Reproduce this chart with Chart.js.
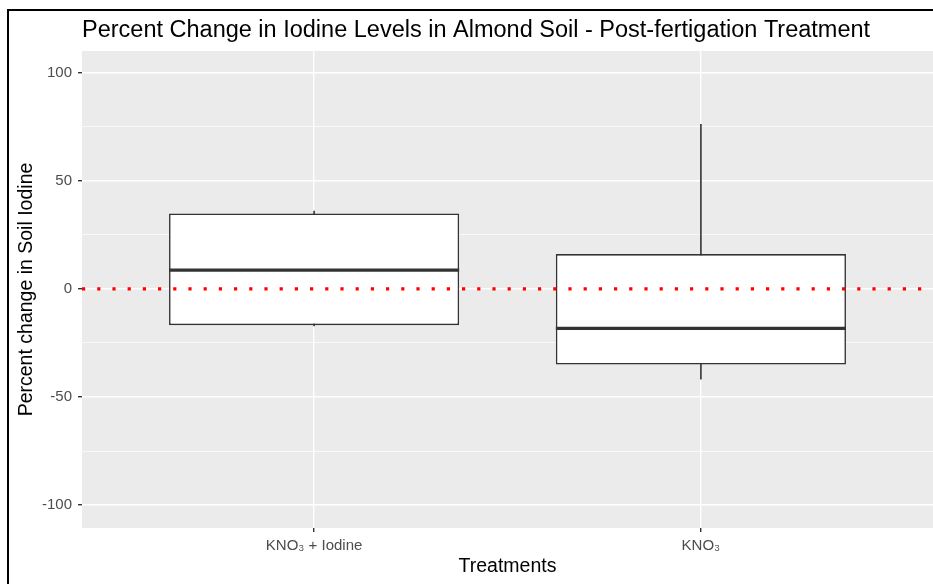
<!DOCTYPE html>
<html>
<head>
<meta charset="utf-8">
<script src="https://cdn.jsdelivr.net/npm/chart.js@4.4.1/dist/chart.umd.min.js"></script>
<style>
  html, body { margin: 0; padding: 0; background: #fff; overflow: hidden; }
  #wrap { position: relative; width: 933px; height: 584px; }
  #frame { position: absolute; left: 7px; top: 9px; width: 960px; height: 600px;
           border-top: 2px solid #000; border-left: 2px solid #000; pointer-events: none; }
</style>
</head>
<body>
<div id="wrap">
  <canvas id="boxChart" width="933" height="584"></canvas>
  <div id="frame"></div>
</div>
<script>
// Box plot values
const categories = ['KNO\u2083 + Iodine', 'KNO\u2083'];
const positions = [1, 2];
const whiskerLow = [-17.3, -41.9];
const q1 = [-16.8, -35.0];
const median = [8.7, -18.3];
const q3 = [34.9, 16.1];
const whiskerHigh = [36.1, 76.2];
const yTicks = [-100, -75, -50, -25, 0, 25, 50, 75, 100];
const refLine = 0;

const FONT = 'Liberation Sans, Arial, Helvetica, sans-serif';

// Box fill / whisker data built from the arrays above
const boxData = positions.map((p, i) => ({ x: p, y: [q1[i], q3[i]] }));
const whiskerData = [];
positions.forEach((p, i) => {
  if (i > 0) whiskerData.push({ x: p - 0.5, y: null });
  whiskerData.push({ x: p, y: whiskerLow[i] });
  whiskerData.push({ x: p, y: whiskerHigh[i] });
});

// Grey panel background
const panelBg = {
  id: 'panelBg',
  beforeDraw(chart) {
    const { ctx, chartArea: a } = chart;
    ctx.save();
    ctx.fillStyle = '#EBEBEB';
    ctx.fillRect(a.left, a.top, a.right - a.left, a.bottom - a.top);
    ctx.restore();
  }
};

// Median bars and the dotted zero reference line
const boxExtras = {
  id: 'boxExtras',
  afterDatasetsDraw(chart) {
    const { ctx, chartArea: a, scales } = chart;
    const meta = chart.getDatasetMeta(1);
    ctx.save();
    ctx.strokeStyle = '#333333';
    ctx.lineWidth = 3.2;
    meta.data.forEach((el, i) => {
      const y = scales.y.getPixelForValue(median[i]);
      ctx.beginPath();
      ctx.moveTo(el.x - el.width / 2, y);
      ctx.lineTo(el.x + el.width / 2, y);
      ctx.stroke();
    });
    const y0 = scales.y.getPixelForValue(refLine);
    ctx.strokeStyle = '#FF0000';
    ctx.lineWidth = 3.2;
    ctx.setLineDash([3.2, 12]);
    ctx.beginPath();
    ctx.moveTo(a.left, y0);
    ctx.lineTo(a.right, y0);
    ctx.stroke();
    ctx.restore();
  }
};

const isMajor = v => v % 50 === 0;

new Chart(document.getElementById('boxChart'), {
  data: {
    datasets: [
      {
        type: 'line',
        data: whiskerData,
        borderColor: '#333333',
        borderWidth: 1.6,
        pointRadius: 0,
        spanGaps: false,
        order: 2
      },
      {
        type: 'bar',
        data: boxData,
        backgroundColor: '#FFFFFF',
        borderColor: '#333333',
        borderWidth: 1.6,
        borderSkipped: false,
        barPercentage: 0.75,
        categoryPercentage: 1,
        grouped: false,
        order: 1
      }
    ]
  },
  options: {
    responsive: false,
    animation: false,
    layout: { padding: { left: 0, right: 0, top: 0, bottom: 0 } },
    plugins: {
      legend: { display: false },
      tooltip: { enabled: false },
      title: {
        display: true,
        text: 'Percent Change in Iodine Levels in Almond Soil - Post-fertigation Treatment',
        align: 'start',
        fullSize: false,
        color: '#000000',
        font: { family: FONT, size: 23.5, weight: 'normal' },
        padding: { top: 16, bottom: 6.8 }
      }
    },
    scales: {
      x: {
        type: 'linear',
        offset: false,
        min: 0.4,
        max: 2.6,
        afterBuildTicks(scale) { scale.ticks = positions.map(v => ({ value: v })); },
        afterFit(scale) { scale.height = 56; },
        border: { display: false },
        grid: { offset: false, color: '#FFFFFF', lineWidth: 1.4, tickColor: '#333333', tickLength: 4 },
        ticks: {
          color: '#4D4D4D',
          font: { family: FONT, size: 15 },
          padding: 5,
          maxRotation: 0,
          autoSkip: false,
          callback: v => categories[positions.indexOf(v)]
        },
        title: {
          display: true,
          text: 'Treatments',
          color: '#000000',
          font: { family: FONT, size: 19.5 },
          padding: { top: 0, bottom: 5.3 }
        }
      },
      y: {
        min: -110.6,
        max: 110,
        afterBuildTicks(scale) { scale.ticks = yTicks.map(v => ({ value: v })); },
        afterFit(scale) { scale.width = 82; },
        border: { display: false },
        grid: {
          color: '#FFFFFF',
          lineWidth: ctx => isMajor(ctx.tick.value) ? 1.4 : 0.7,
          tickColor: ctx => isMajor(ctx.tick.value) ? '#333333' : 'rgba(0,0,0,0)',
          tickLength: 4
        },
        ticks: {
          color: '#4D4D4D',
          font: { family: FONT, size: 15 },
          padding: 6,
          autoSkip: false,
          callback: v => isMajor(v) ? String(v) : ''
        },
        title: {
          display: true,
          text: 'Percent change in Soil Iodine',
          color: '#000000',
          font: { family: FONT, size: 19.5 },
          padding: { top: 15.3, bottom: 0 }
        }
      }
    }
  },
  plugins: [panelBg, boxExtras]
});
</script>
</body>
</html>
